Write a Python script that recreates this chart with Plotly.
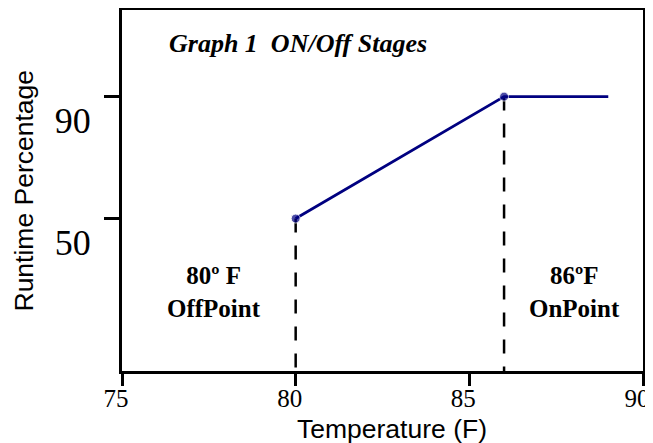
import plotly.graph_objects as go

# Data
temps = [80, 86, 89]
runtime = [50, 90, 90]
marker_sizes = [9, 9, 0]
x_ticks = [75, 80, 85, 90]
x_tick_labels = ["75", "80", "85", "90"]
y_ticks = [50, 90]
y_tick_labels = ["50", "90"]
stage_temps = [80, 86]
stage_runtime = [50, 90]
stage_labels = ["<b>80º F<br>OffPoint</b>", "<b>86ºF<br>OnPoint</b>"]

fig = go.Figure()

# dashed drop lines from each stage point down to the x axis
for t, r in zip(stage_temps, stage_runtime):
    fig.add_trace(go.Scatter(
        x=[t, t], y=[r, 0], mode="lines",
        line=dict(color="black", width=2.5, dash="14px,13px"),
        showlegend=False, hoverinfo="skip"))

fig.add_trace(go.Scatter(
    x=temps, y=runtime, mode="lines+markers",
    line=dict(color="#000080", width=2.8),
    marker=dict(color="#000080", size=marker_sizes),
    showlegend=False))

serif = "Liberation Serif, Times New Roman, serif"
sans = "Liberation Sans, Arial, sans-serif"

fig.add_annotation(
    text="<b><i>Graph 1\u00a0\u00a0ON/Off Stages</i></b>",
    xref="paper", yref="paper", x=0.086, y=0.906, xanchor="left", yanchor="middle",
    showarrow=False, font=dict(family=serif, size=26, color="black"))

for xp, txt in zip([0.1775, 0.8676], stage_labels):
    fig.add_annotation(
        text=txt, xref="paper", yref="paper", x=xp, y=0.2175,
        xanchor="center", yanchor="middle", showarrow=False,
        font=dict(family=serif, size=25, color="black"))

# axis titles
fig.add_annotation(
    text="Temperature (F)", xref="paper", yref="paper", x=0.518, y=-0.162,
    xanchor="center", yanchor="middle", showarrow=False,
    font=dict(family=sans, size=26.5, color="black"))
fig.add_annotation(
    text="Runtime Percentage", xref="paper", yref="paper", x=-0.19, y=0.5,
    xanchor="center", yanchor="middle", textangle=-90, showarrow=False,
    font=dict(family=sans, size=26.5, color="black"))

fig.update_xaxes(
    range=[75, 90], tickvals=x_ticks, ticktext=x_tick_labels,
    ticks="outside", ticklen=12, tickwidth=3, tickcolor="black",
    tickfont=dict(family=serif, size=25, color="black"),
    showline=True, linewidth=3, linecolor="black", mirror=True,
    showgrid=False, zeroline=False, ticklabelstandoff=-9,
    ticklabelshift=-6)

fig.update_yaxes(
    range=[0, 118.4], tickvals=y_ticks, ticktext=y_tick_labels,
    ticks="outside", ticklen=15, tickwidth=3, tickcolor="black",
    tickfont=dict(family=serif, size=36, color="black"),
    showline=True, linewidth=3, linecolor="black", mirror=True,
    showgrid=False, zeroline=False, ticklabelstandoff=6, ticklabelshift=24)

fig.update_layout(
    width=645, height=437,
    margin=dict(l=114, r=10, t=2, b=74, autoexpand=False),
    plot_bgcolor="white", paper_bgcolor="white",
    showlegend=False)

fig.write_html("out.html")
